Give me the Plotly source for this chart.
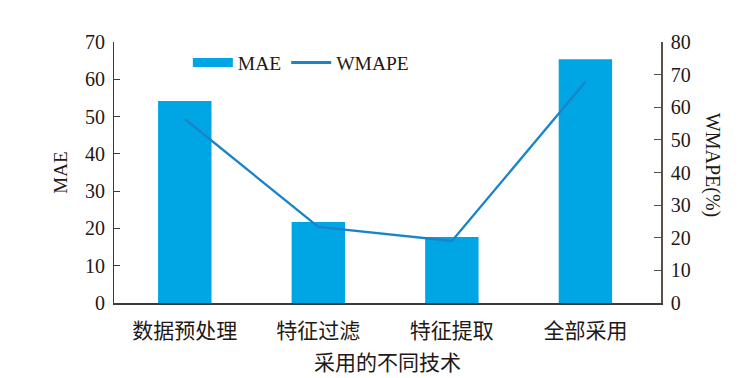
import plotly.graph_objects as go

categories = ["数据预处理", "特征过滤", "特征提取", "全部采用"]
mae = [54.2, 21.7, 17.7, 65.4]
wmape = [56.4, 23.3, 19.0, 67.8]

FONT = "Liberation Serif, Times New Roman, Noto Sans CJK SC, serif"
CJK = "Noto Sans CJK SC"
BAR_C = "#00a6e4"
LINE_C = "#1a84c8"

fig = go.Figure()
fig.add_trace(go.Bar(x=categories, y=mae, name="MAE", marker=dict(color=BAR_C, line=dict(width=0)),
                     width=0.40, yaxis="y", showlegend=False))
fig.add_trace(go.Scatter(x=categories, y=wmape, name="WMAPE", mode="lines",
                         line=dict(color=LINE_C, width=2.3), yaxis="y2", showlegend=False))
# legend-only entries
fig.add_trace(go.Scatter(x=[None], y=[None], name="MAE", mode="lines",
                         line=dict(color=BAR_C, width=9), yaxis="y", showlegend=True))
fig.add_trace(go.Scatter(x=[None], y=[None], name="WMAPE", mode="lines",
                         line=dict(color=LINE_C, width=3), yaxis="y", showlegend=True))

fig.update_layout(
    width=739, height=378,
    margin=dict(l=106, r=86, t=34, b=83, autoexpand=False),
    plot_bgcolor="white", paper_bgcolor="white",
    font=dict(family=FONT, size=17, color="#231815"),
    showlegend=True,
    legend=dict(orientation="h", x=0.135, y=0.92, xanchor="left", yanchor="middle",
                font=dict(size=19.5, family=FONT), bgcolor="rgba(0,0,0,0)", itemwidth=40),
    xaxis=dict(showline=True, linecolor="#3a3a3a", linewidth=1.5, ticks="", showgrid=False,
               automargin=False, range=[-0.53, 3.566], ticklabelstandoff=8,
               tickfont=dict(size=21, family=CJK),
               title=dict(text="采用的不同技术", font=dict(size=21, family=CJK), standoff=12)),
    yaxis=dict(range=[0, 70], dtick=10, showline=True, linecolor="#3a3a3a", linewidth=1.2,
               ticks="inside", ticklen=6, tickcolor="#3a3a3a", showgrid=False, zeroline=False,
               automargin=False, tickfont=dict(size=20), ticklabelstandoff=4,
               title=dict(text="MAE", font=dict(size=19), standoff=12)),
    yaxis2=dict(range=[0, 80], dtick=10, overlaying="y", side="right", showline=True,
                linecolor="#5a4e48", linewidth=1.5, ticks="inside", ticklen=7, tickcolor="#5a4e48",
                automargin=False, showgrid=False, zeroline=False, tickfont=dict(size=20),
                ticklabelstandoff=4),
)
fig.add_annotation(text="WMAPE(%)", xref="paper", yref="paper", x=1.093, y=0.53,
                   textangle=90, showarrow=False, font=dict(size=20, family=FONT),
                   xanchor="center", yanchor="middle")
fig.write_html("out.html")
